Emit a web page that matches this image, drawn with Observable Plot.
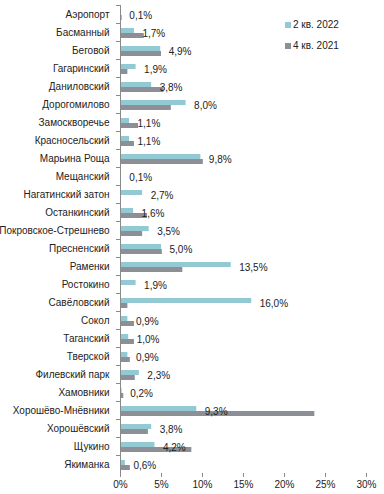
<!DOCTYPE html>
<html><head><meta charset="utf-8">
<script src="https://cdn.jsdelivr.net/npm/d3@7"></script>
<script src="https://cdn.jsdelivr.net/npm/@observablehq/plot@0.6"></script>
<style>
body{margin:0;background:#fff;font-family:"Liberation Sans",Arial,sans-serif;}
#wrap{position:relative;width:384px;height:494px;}
#legend{position:absolute;left:285px;top:18px;font-size:10px;color:#222;line-height:14px;}
#legend .it{display:flex;align-items:center;height:14px;margin-bottom:6.5px;}
#legend .sw{width:6px;height:6px;margin-right:2px;}
</style></head>
<body><div id="wrap"><div id="legend"></div></div>
<script>
const categories = ["Аэропорт","Басманный","Беговой","Гагаринский","Даниловский","Дорогомилово","Замоскворечье","Красносельский","Марьина Роща","Мещанский","Нагатинский затон","Останкинский","Покровское-Стрешнево","Пресненский","Раменки","Ростокино","Савёловский","Сокол","Таганский","Тверской","Филевский парк","Хамовники","Хорошёво-Мнёвники","Хорошёвский","Щукино","Якиманка"];
const q2_2022 = [0.1,1.7,4.9,1.9,3.8,8.0,1.1,1.1,9.8,0.1,2.7,1.6,3.5,5.0,13.5,1.9,16.0,0.9,1.0,0.9,2.3,0.2,9.3,3.8,4.2,0.6];
const q4_2021 = [0.2,2.9,5.0,0.9,5.3,6.2,2.2,1.7,10.1,0,0,3.3,2.7,5.1,7.6,0,0.9,1.7,1.7,1.2,1.8,0.4,23.7,3.4,8.7,1.2];
const seriesNames = ["2 кв. 2022","4 кв. 2021"];
const seriesColors = ["#92C9D2","#8C9096"];
const xTicks = [0,5,10,15,20,25,30];

const rows = categories.map((c,i)=>({cat:c, v22:q2_2022[i], v21:q4_2021[i]}));
const fmt = v => v.toFixed(1).replace(".",",") + "%";
const H = 494, MT = 5, MB = 21;
const step = (H - MT - MB) / categories.length;
const axisColor = "#8a8a8a";

const chart = Plot.plot({
  width: 384, height: H,
  marginLeft: 120, marginRight: 18, marginTop: MT, marginBottom: MB,
  style: {fontFamily: "Liberation Sans, Arial, sans-serif", fontSize: "10px", color: "#222", background: "#fff"},
  x: {domain: [0, 30], label: null},
  y: {domain: categories, padding: 0, label: null},
  marks: [
    Plot.barX(rows, {x: "v22", y: "cat", fill: seriesColors[0], insetTop: step/2 - 4, insetBottom: step/2 - 1}),
    Plot.barX(rows, {x: "v21", y: "cat", fill: seriesColors[1], insetTop: step/2 + 1, insetBottom: step/2 - 6}),
    Plot.text(rows, {x: "v22", y: "cat", text: d => fmt(d.v22), textAnchor: "start", dx: 8, dy: 1, fill: "#222", fontSize: 10}),
    Plot.ruleX([0], {stroke: axisColor}),
    Plot.axisY({tickSize: 0, tickPadding: 11, fill: "#222", label: null}),
    Plot.axisY({text: null, tickSize: 4, dy: -step/2, stroke: axisColor, label: null}),
    Plot.axisX({ticks: xTicks, tickFormat: d => d + "%", tickSize: 4, tickPadding: 3, stroke: axisColor, fill: "#222", label: null}),
    Plot.axisX({ticks: [], text: null, tickSize: 0, line: true, stroke: axisColor, label: null})
  ]
});
document.getElementById("wrap").prepend(chart);

const legend = document.getElementById("legend");
seriesNames.forEach((n,i)=>{
  const it = document.createElement("div"); it.className = "it";
  const sw = document.createElement("span"); sw.className = "sw"; sw.style.background = seriesColors[i];
  const tx = document.createElement("span"); tx.textContent = n;
  it.append(sw, tx); legend.append(it);
});
</script></body></html>
